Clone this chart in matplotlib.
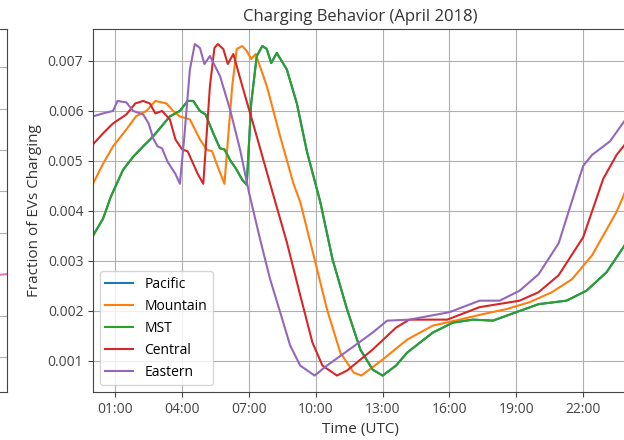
import matplotlib
matplotlib.use("Agg")
import matplotlib.pyplot as plt
from matplotlib.ticker import FixedLocator, FuncFormatter

plt.rcParams["font.family"] = ["Open Sans", "DejaVu Sans"]

# fraction of EVs charging by time of day (UTC hours), one curve per time zone
eastern_h = [0, 0.45, 0.9, 1.1, 1.5, 1.8, 2.25, 2.5, 2.7, 2.9, 3.1, 3.35, 3.7, 3.9,
             4.1, 4.35, 4.57, 4.8, 5.0, 5.25, 5.7, 6.15, 6.6, 7.0, 7.5, 7.95, 8.4,
             8.85, 9.3, 9.95, 10.5, 11.5, 12.55, 13.2, 14.2, 16.0, 17.35, 18.25,
             19.15, 20.0, 20.9, 21.5, 22.0, 22.4, 23.2, 24.0]
eastern = [.00589, .00595, .0060, .0062, .00617, .0060, .00593, .00575, .00545,
           .00529, .00525, .00498, .00474, .00454, .00549, .00683, .00734, .00726,
           .00694, .0071, .0067, .00603, .00523, .00437, .00343, .00263, .00197,
           .0013, .0009, .0007, .0009, .00122, .00156, .0018, .00182, .00197,
           .0022, .0022, .0024, .00273, .00335, .0042, .0049, .00512, .00539, .00589]

central_h = [0, 0.45, 0.9, 1.5, 1.9, 2.25, 2.55, 2.8, 3.1, 3.45, 3.7, 4.0, 4.25, 4.5,
             4.7, 4.95, 5.25, 5.45, 5.6, 5.85, 6.05, 6.3, 6.7, 7.35, 7.95, 8.7, 9.3,
             9.85, 10.3, 10.95, 11.4, 12.55, 13.6, 14.2, 15.9, 17.35, 19.15, 20.0,
             20.9, 22.0, 22.9, 23.5, 24.0]
central = [.00533, .00555, .00575, .00593, .00615, .0062, .00615, .00595, .006,
           .00583, .00543, .00523, .00519, .00494, .00474, .00454, .0065, .00726,
           .00734, .00724, .00694, .00714, .0065, .00549, .00454, .00337, .00231,
           .00136, .0009, .0007, .0008, .00122, .00166, .00182, .00182, .00207,
           .0022, .00237, .00271, .00347, .00464, .00512, .0054]

mountain_h = [0, 0.45, 0.9, 1.5, 1.93, 2.4, 2.8, 3.3, 3.6, 3.9, 4.35, 4.8, 5.1, 5.35,
              5.55, 5.9, 6.25, 6.45, 6.7, 6.9, 7.1, 7.3, 7.8, 8.4, 9.0, 9.3, 9.9,
              10.5, 11.1, 11.7, 12.05, 13.0, 14.1, 15.25, 16.45, 17.5, 18.55, 19.6,
              20.6, 21.5, 22.4, 23.5, 24.0]
mountain = [.00454, .00494, .00529, .00563, .00589, .006, .0062, .00615, .006,
            .00589, .00583, .00543, .00523, .00519, .00494, .00454, .0065, .00724,
            .0073, .0072, .00704, .00714, .0065, .00549, .00454, .00418, .00311,
            .00203, .00116, .00076, .0007, .00102, .00142, .0017, .00182, .00193,
            .00203, .00217, .00237, .00263, .00311, .00398, .0045]

mst_h = [0, 0.45, 0.8, 1.35, 1.8, 2.25, 2.7, 3.15, 3.45, 3.9, 4.25, 4.5, 4.8, 5.05,
         5.4, 5.7, 5.9, 6.15, 6.45, 6.7, 6.9, 7.1, 7.35, 7.6, 7.8, 8.0, 8.25, 8.7,
         9.15, 9.6, 10.2, 10.75, 11.4, 12.0, 12.55, 13.0, 13.6, 14.1, 15.25, 16.15,
         17.05, 17.95, 19.0, 20.0, 21.25, 22.15, 23.05, 24.0]
mst = [.0035, .00384, .00428, .00482, .00508, .00529, .00549, .00573, .00589, .006,
       .0062, .0062, .006, .00593, .00555, .00525, .00523, .00502, .00482, .00462,
       .00452, .00615, .0071, .0073, .00724, .00696, .00716, .00683, .00615, .00519,
       .00418, .00303, .00203, .00122, .00082, .0007, .0009, .00116, .00156, .00176,
       .00182, .0018, .00197, .00213, .0022, .0024, .00277, .0034]

# Pacific daylight time shares the UTC offset of MST
pacific_h = list(mst_h)
pacific = list(mst)

zones = ["Pacific", "Mountain", "MST", "Central", "Eastern"]
series = [(pacific_h, pacific), (mountain_h, mountain), (mst_h, mst),
          (central_h, central), (eastern_h, eastern)]
tick_hours = [1, 4, 7, 10, 13, 16, 19, 22]

# neighbouring panel on the left
side_x = [20, 24]
side_y = [1.9, 2.0]

fig = plt.figure(figsize=(6.24, 4.4), dpi=100)

side = fig.add_axes([-0.5, 0.109, 0.511, 0.825])
side.plot(side_x, side_y, color="#e377c2", lw=1.5)
side.set_xlim(0, 24)
side.set_ylim(-0.845, 7.92)
side.set_yticks(range(8))
side.grid(True, color="#b0b0b0", lw=0.8)
side.tick_params(labelleft=False, labelbottom=False, length=0)
for s in side.spines.values():
    s.set_color("#444444")

ax = fig.add_axes([0.149, 0.109, 0.857, 0.825])
for name, (hh, vals) in zip(zones, series):
    ax.plot(hh, vals, lw=1.5, label=name)

ax.set_xlim(0, 24)
ax.set_ylim(0.00037, 0.00764)
ax.xaxis.set_major_locator(FixedLocator(tick_hours))
ax.xaxis.set_major_formatter(FuncFormatter(lambda h, _: f"{int(round(h)):02d}:00"))
ax.set_yticks([0.001, 0.002, 0.003, 0.004, 0.005, 0.006, 0.007])
ax.grid(True, color="#b0b0b0", lw=0.8)
ax.tick_params(labelsize=10, colors="#444444", length=3.5)
for s in ax.spines.values():
    s.set_color("#444444")

ax.set_xlabel("Time (UTC)", fontsize=11, color="#333333")
ax.set_ylabel("Fraction of EVs Charging", fontsize=11, color="#333333")
ax.set_title("Charging Behavior (April 2018)", fontsize=12, color="#333333")
ax.legend(loc="lower left", fontsize=10)

fig.savefig("out.png", dpi=100)
